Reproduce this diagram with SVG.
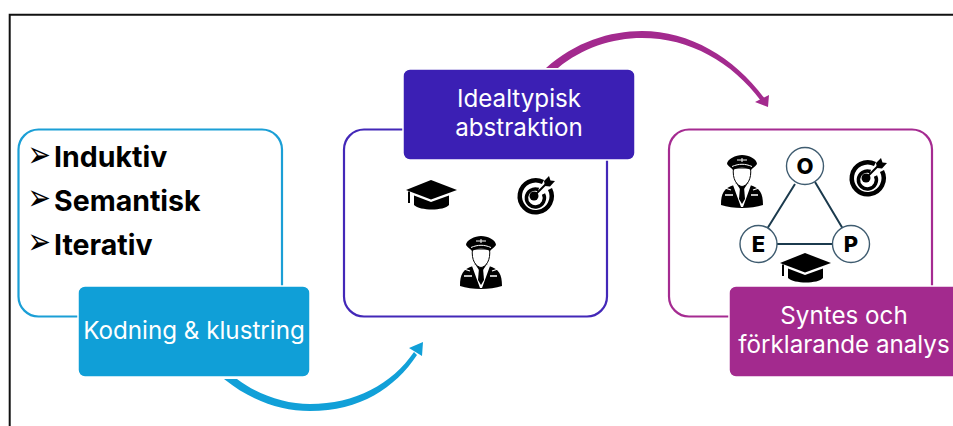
<svg xmlns="http://www.w3.org/2000/svg" width="953" height="426" viewBox="0 0 953 426">
<style>
.box{fill:#fff;stroke-width:2.2}
.lbl{stroke:#fff;stroke-width:1.5}
.lt{font-family:"Inter","Noto Sans",sans-serif;font-size:24.2px;fill:#fff;text-anchor:middle}
.bl{font-family:"Inter","Liberation Sans",sans-serif;font-size:28.500px;font-weight:700;fill:#000}
.bu{font-family:"DejaVu Sans",sans-serif;font-size:22px;fill:#000}
.oep{fill:#fff;stroke:#3f5c70;stroke-width:1.4}
.ol{font-family:"Inter","Liberation Sans",sans-serif;font-size:22px;font-weight:800;fill:#000;text-anchor:middle}
.e{stroke:#1b3a4d;stroke-width:2;fill:none}
</style>
<defs>
<symbol id="cap" width="51" height="30" viewBox="0 0 51 30" overflow="visible">
<path d="M25 0L51 10L25 19.500L0 10Z"/>
<path d="M8 15.500L25 22L43 15.500V25C38 31 14 31 8 25Z"/>
<path d="M2 11.500h2V23H2Z"/>
</symbol>
<symbol id="target" width="40" height="40" viewBox="0 0 40 40" overflow="visible">
<path d="M27 6A16 16 0 1 0 34 13" fill="none" stroke="#000" stroke-width="4.500"/>
<path d="M22.500 13.500A9 9 0 1 0 27.500 18" fill="none" stroke="#000" stroke-width="3.500"/>
<circle cx="18" cy="20" r="4.500"/>
<path d="M18 20L31 7" stroke="#000" stroke-width="2"/>
<path d="M28 5L33 0L34.500 4.500L39 5L34 10.500L29 10Z"/>
</symbol>
<symbol id="pilot" width="46" height="53" viewBox="0 0 46 53" overflow="visible">
<path d="M2 50C2 38 5 33 15 30L18 27H28L31 30C41 33 44 38 44 50C32 54 14 54 2 50Z"/>
<path d="M17 28L23 37L29 28L32 30L24 52H22L14 30Z" fill="#fff"/>
<path d="M21 32H25L26 44L23 49L20 44Z"/>
<path d="M14.500 13C13 24 18 31 23 31.500C28 31 33 24 31.500 13Z" fill="#fff" stroke="#000" stroke-width="1"/>
<path d="M8 9C8 4 17 0 23 0C30 0 38 4 38 9C36 12 33 13 32 15C26 11.500 20 11.500 14 15C13 13 10 12 8 9Z"/>
<path d="M13 11.500C20 8.500 26 8.500 33 11.500" fill="none" stroke="#fff" stroke-width="1"/>
<path d="M18 5h10M23 3v4" stroke="#fff" stroke-width="1"/>
<path d="M6 40h8M32 40h7M6 33l6 2M40 33l-6 2" stroke="#fff" stroke-width="1.300"/>
</symbol>
</defs>
<path d="M9.700 426V14.700H953" fill="none" stroke="#111" stroke-width="2"/>
<g id="connectors">
<path d="M224 379C250 400 280 411 310 411C360 411 395 388 417 355L414 352C392 384 355 404 310 404C285 404 258 395 237 379ZM423 342L409 348L422 356Z" fill="#11a0d8"/>
<path d="M546 68C575 42 610 31 642 31C690 31 735 58 765 99L761 101C732 62 690 38 642 38C612 38 582 48 558 68ZM768 107L755 102L769 95Z" fill="#a32a8e"/>
</g>
<g id="node-kodning">
<rect class="box" x="18.500" y="129.500" width="263.500" height="187" rx="20" stroke="#1b9fd6"/>
<rect class="lbl" x="78" y="286" width="232" height="91" rx="7" fill="#109fd7"/>
<text class="lt" x="194" y="339">Kodning &amp; klustring</text>
<text class="bu" transform="translate(27.500 166.500) scale(1.27 1.68)">➢</text><text class="bl" x="54" y="167">Induktiv</text>
<text class="bu" transform="translate(27.500 210) scale(1.27 1.68)">➢</text><text class="bl" x="54" y="210.500">Semantisk</text>
<text class="bu" transform="translate(27.500 253.500) scale(1.27 1.68)">➢</text><text class="bl" x="54" y="254.500">Iterativ</text>
</g>
<g id="node-abstraktion">
<rect class="box" x="344" y="129.500" width="263" height="187" rx="20" stroke="#4328b8"/>
<rect class="lbl" x="403" y="69" width="232" height="91" rx="7" fill="#3b1fb4"/>
<text class="lt" x="519" y="107">Idealtypisk</text>
<text class="lt" x="519" y="136">abstraktion</text>
<use href="#cap" x="406" y="180"/>
<use href="#target" x="516" y="176"/>
<use href="#pilot" x="458" y="236"/>
</g>
<g id="node-syntes">
<rect class="box" x="669" y="129.500" width="263" height="187" rx="20" stroke="#a52b91"/>
<rect class="lbl" x="729" y="286" width="240" height="91" rx="7" fill="#a32a8e"/>
<text class="lt" x="844" y="324">Syntes och</text>
<text class="lt" x="844" y="353">förklarande analys</text>
<use href="#pilot" x="719" y="155"/>
<use href="#target" x="848" y="158"/>
<use href="#cap" x="780" y="253"/>
</g>
<g id="node-oep">
<path class="e" d="M795 184L767 229M815 182L843 229M777 244H833"/>
<g id="node-o"><circle class="oep" cx="805" cy="166" r="18.500"/><text class="ol" x="805" y="174">O</text></g>
<g id="node-e"><circle class="oep" cx="758.500" cy="244" r="18.500"/><text class="ol" x="758.500" y="252">E</text></g>
<g id="node-p"><circle class="oep" cx="851" cy="244" r="18.500"/><text class="ol" x="851" y="252">P</text></g>
</g>
</svg>
